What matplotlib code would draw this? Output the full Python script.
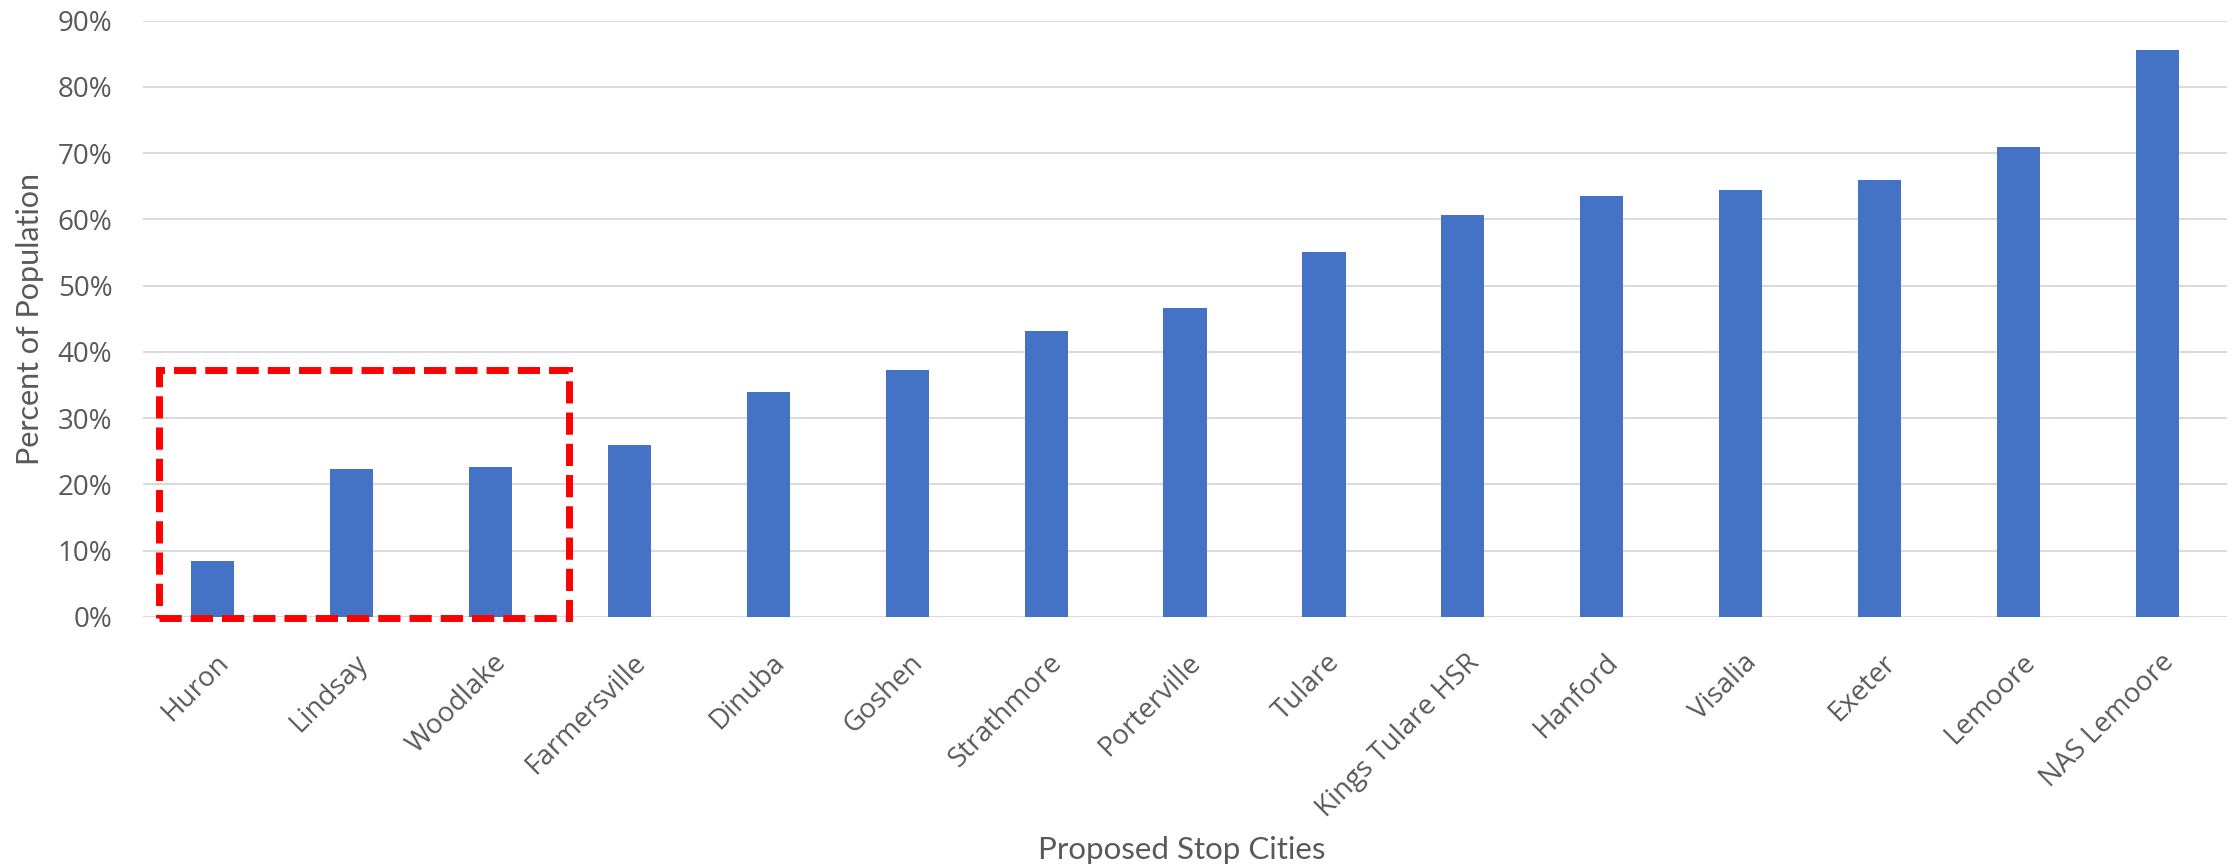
import matplotlib.pyplot as plt
from matplotlib.patches import Rectangle
from matplotlib.ticker import PercentFormatter
from matplotlib.transforms import ScaledTranslation

# Share of population for each proposed stop city
cities = ['Huron', 'Lindsay', 'Woodlake', 'Farmersville', 'Dinuba', 'Goshen',
          'Strathmore', 'Porterville', 'Tulare', 'Kings Tulare HSR', 'Hanford',
          'Visalia', 'Exeter', 'Lemoore', 'NAS Lemoore']
percent = [8.5, 22.3, 22.6, 26.0, 33.9, 37.3, 43.2, 46.6, 55.1, 60.7, 63.5,
           64.4, 66.0, 71.0, 85.5]
y_ticks = [0, 10, 20, 30, 40, 50, 60, 70, 80, 90]

BAR_COLOR = '#4472C4'
GRID_COLOR = '#D9D9D9'
TEXT_COLOR = '#595959'

fig = plt.figure(figsize=(22.34, 8.68), dpi=100)
ax = fig.add_axes([0.064, 0.2892, 0.9329, 0.6870])

x = range(len(cities))
ax.bar(x, percent, width=0.31, color=BAR_COLOR, zorder=3)

ax.set_xlim(-0.5, len(cities) - 0.5)
ax.set_ylim(0, 90)
ax.set_yticks(y_ticks)
ax.yaxis.set_major_formatter(PercentFormatter(decimals=0))
ax.grid(axis='y', color=GRID_COLOR, linewidth=1.4, zorder=0)
ax.set_axisbelow(True)
for side in ['top', 'right', 'left', 'bottom']:
    ax.spines[side].set_visible(False)

ax.tick_params(axis='y', length=0, pad=22, labelsize=20, labelcolor=TEXT_COLOR)
ax.tick_params(axis='x', length=0, pad=30, labelsize=20, labelcolor=TEXT_COLOR)
for lab in ax.get_yticklabels():
    lab.set_fontfamily('Open Sans')

ax.set_xticks(list(x))
ax.set_xticklabels(cities, rotation=45, ha='right', va='center',
                   rotation_mode='anchor', fontfamily='Open Sans')
shift = ScaledTranslation(0.12, 0, fig.dpi_scale_trans)
for lab in ax.get_xticklabels():
    lab.set_transform(lab.get_transform() + shift)

ax.set_ylabel('Percent of Population', fontsize=22, color=TEXT_COLOR, fontfamily='Lato')
ax.yaxis.set_label_coords(-0.0542, 0.5)
ax.yaxis.label.set_va('center')
ax.set_xlabel('Proposed Stop Cities', fontsize=22.5, color=TEXT_COLOR, fontfamily='Lato')
ax.xaxis.set_label_coords(0.4985, -0.391)
ax.xaxis.label.set_va('center')

# Dashed outline around the three lowest cities
box = Rectangle((-0.386, -0.2), 2.95, 37.5, fill=False, edgecolor='#FF0000',
                linewidth=5, linestyle=(0, (3.2, 1.3)), clip_on=False, zorder=4)
ax.add_patch(box)

fig.savefig('out.png', dpi=100)
